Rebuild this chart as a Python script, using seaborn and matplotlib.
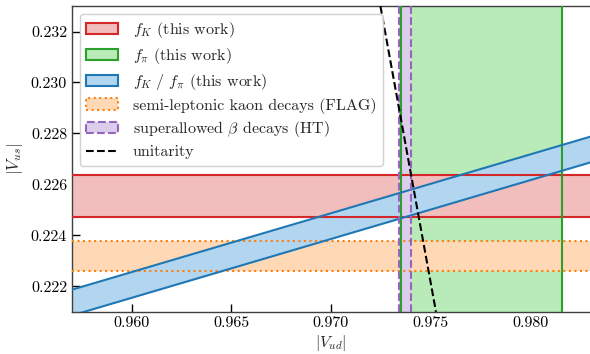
import matplotlib
matplotlib.use("Agg")
import matplotlib.pyplot as plt
import seaborn as sns
import numpy as np
import pandas as pd
from matplotlib.patches import Patch
from matplotlib.lines import Line2D

# ---- data ----
xlim = [0.957, 0.983]
ylim = [0.221, 0.233]
fK_band = [0.22474, 0.22637]          # |Vus| from f_K
fpi_band = [0.97350, 0.98157]         # |Vud| from f_pi
flag_band = [0.22261, 0.22380]        # semi-leptonic kaon decays (FLAG)
ht_band = [0.97342, 0.97404]          # superallowed beta decays (HT)
ratio_vud = [0.957, 0.983]            # |Vud| at the edges of the ratio band
ratio_upper = [0.22187, 0.22787]      # upper |Vus| edge of f_K/f_pi band
ratio_lower = [0.22086, 0.22686]      # lower |Vus| edge of f_K/f_pi band
unit_vud = [0.97248, 0.97527]         # unitarity line
unit_vus = [0.2330, 0.2210]
xticks = [0.960, 0.965, 0.970, 0.975, 0.980]
yticks = [0.222, 0.224, 0.226, 0.228, 0.230, 0.232]

labels = [r"$f_K$ (this work)", r"$f_\pi$ (this work)",
          r"$f_K\ /\ f_\pi$ (this work)",
          "semi-leptonic kaon decays (FLAG)",
          r"superallowed $\beta$ decays (HT)", "unitarity"]

sns.set_style("ticks")
plt.rcParams["font.family"] = "serif"
plt.rcParams["font.serif"] = ["cmr10", "DejaVu Serif"]
plt.rcParams["mathtext.fontset"] = "cm"
plt.rcParams["axes.formatter.use_mathtext"] = True
plt.rcParams["axes.unicode_minus"] = False

red, green, blue, orange, purple = "#d62728", "#2ca02c", "#1f77b4", "#ff7f0e", "#9467bd"
red_f, green_f, blue_f, orange_f, purple_f = "#f2bdbd", "#b8ebb8", "#b3d6f0", "#ffd8b5", "#dccdec"
lw = 1.5

fig = plt.figure(figsize=(5.90, 3.54), dpi=100)
ax = fig.add_axes([0.122, 0.119, 0.878, 0.864])

# bands (opaque tints, stacking order as in the reference)
ax.axvspan(fpi_band[0], fpi_band[1], color=green_f, lw=0, zorder=1)
ax.axhspan(fK_band[0], fK_band[1], color=red_f, lw=0, zorder=1.1)
ax.axhspan(flag_band[0], flag_band[1], color=orange_f, lw=0, zorder=1.2)
ax.fill_between(ratio_vud, ratio_lower, ratio_upper, color=blue_f, lw=0, zorder=1.3)
ax.axvspan(ht_band[0], ht_band[1], color=purple_f, lw=0, zorder=1.4)

# edges
for v in fK_band:
    ax.axhline(v, color=red, lw=lw, zorder=3)
for v in flag_band:
    ax.axhline(v, color=orange, lw=lw, ls=":", zorder=3)
for v in fpi_band:
    ax.axvline(v, color=green, lw=lw, zorder=3)
for v in ht_band:
    ax.axvline(v, color=purple, lw=lw, ls="--", zorder=3.2)
df = pd.DataFrame({"vud": ratio_vud * 2,
                   "vus": ratio_upper + ratio_lower,
                   "edge": ["u", "u", "l", "l"]})
sns.lineplot(data=df, x="vud", y="vus", units="edge", estimator=None,
             color=blue, lw=lw, ax=ax, zorder=3.1)
sns.lineplot(x=unit_vud, y=unit_vus, color="black", ls="--", lw=lw, ax=ax, zorder=5)

ax.set_xlim(xlim)
ax.set_ylim(ylim)
ax.set_xticks(xticks)
ax.set_yticks(yticks)
ax.set_xticklabels([f"{t:.3f}" for t in xticks])
ax.set_yticklabels([f"{t:.3f}" for t in yticks])
ax.tick_params(direction="in", length=6, width=1, labelsize=11.5, colors="black")
for s in ["left", "bottom", "top"]:
    ax.spines[s].set_color("0.25")
    ax.spines[s].set_linewidth(1)
ax.spines["right"].set_visible(False)
ax.set_xlabel(r"$|V_{ud}|$", fontsize=11.5, labelpad=2)
ax.set_ylabel(r"$|V_{us}|$", fontsize=12, labelpad=4)

handles = [
    Patch(facecolor=red_f, edgecolor=red, lw=lw),
    Patch(facecolor=green_f, edgecolor=green, lw=lw),
    Patch(facecolor=blue_f, edgecolor=blue, lw=lw),
    Patch(facecolor=orange_f, edgecolor=orange, lw=lw, ls=":"),
    Patch(facecolor=purple_f, edgecolor=purple, lw=lw, ls="--"),
    Line2D([0], [0], color="black", ls="--", lw=lw),
]
leg = ax.legend(handles, labels, loc="upper left", fontsize=11.5, frameon=True,
                fancybox=True, framealpha=0.9, edgecolor="0.8",
                borderaxespad=0.5, handlelength=2.0, handletextpad=0.9,
                labelspacing=0.36)
leg.set_zorder(10)

fig.savefig("out.png", dpi=100)
